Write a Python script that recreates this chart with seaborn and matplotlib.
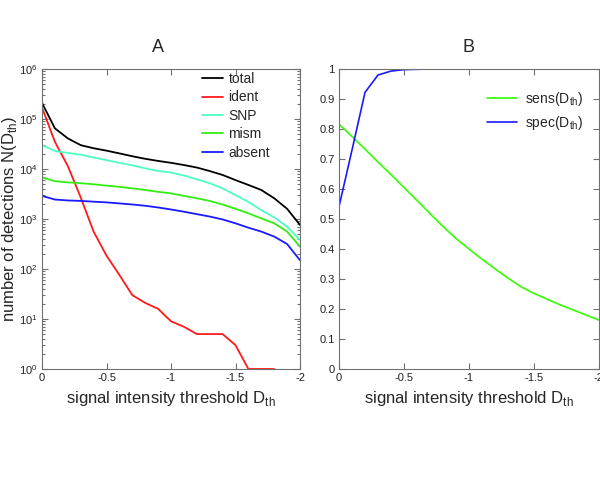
import numpy as np
import pandas as pd
import seaborn as sns
import matplotlib
matplotlib.use('Agg')
import matplotlib.pyplot as plt
from matplotlib.ticker import LogLocator, NullFormatter

# threshold values D_th (0 ... -2, step 0.1)
d_th = [0.0, -0.1, -0.2, -0.3, -0.4, -0.5, -0.6, -0.7, -0.8, -0.9, -1.0,
        -1.1, -1.2, -1.3, -1.4, -1.5, -1.6, -1.7, -1.8, -1.9, -2.0]

# panel A: number of detections
total = [2.1e5, 6.5e4, 4.1e4, 3.0e4, 2.6e4, 2.33e4, 2.05e4, 1.8e4, 1.6e4, 1.45e4, 1.33e4,
         1.2e4, 1.07e4, 9.1e3, 7.6e3, 6.0e3, 4.8e3, 3.8e3, 2.6e3, 1.6e3, 760]
ident = [1.7e5, 3.5e4, 1.15e4, 2.7e3, 560, 185, 76, 30, 21, 16, 9,
         7, 5, 5, 5, 3, 1, 1, 1, np.nan, np.nan]
snp = [3.0e4, 2.3e4, 2.1e4, 1.93e4, 1.7e4, 1.5e4, 1.33e4, 1.18e4, 1.03e4, 9.1e3, 8.5e3,
       7.4e3, 6.2e3, 5.2e3, 4.1e3, 3.0e3, 2.2e3, 1.5e3, 1.08e3, 700, 380]
mism = [6.8e3, 5.7e3, 5.4e3, 5.2e3, 4.95e3, 4.65e3, 4.4e3, 4.1e3, 3.8e3, 3.5e3, 3.25e3,
        2.9e3, 2.6e3, 2.3e3, 1.95e3, 1.6e3, 1.3e3, 1.03e3, 820, 560, 280]
absent = [2.9e3, 2.45e3, 2.35e3, 2.3e3, 2.22e3, 2.15e3, 2.05e3, 1.95e3, 1.84e3, 1.7e3, 1.55e3,
          1.4e3, 1.25e3, 1.12e3, 980, 820, 670, 560, 445, 316, 150]

# panel B: sensitivity / specificity
sens = [0.816, 0.775, 0.733, 0.69, 0.648, 0.605, 0.562, 0.518, 0.475, 0.435, 0.40,
        0.366, 0.334, 0.303, 0.274, 0.252, 0.233, 0.214, 0.197, 0.18, 0.163]
spec = [0.541, 0.73, 0.922, 0.98, 0.993, 0.998, 0.999, 1.0, 1.0, 1.0, 1.0,
        1.0, 1.0, 1.0, 1.0, 1.0, 1.0, 1.0, 1.0, 1.0, 1.0]

names_a = ['total', 'ident', 'SNP', 'mism', 'absent']
colors_a = ['#000000', '#ff1a1a', '#4dffc3', '#33ee11', '#1a1aff']
names_b = [r'sens(D$_\mathregular{th}$)', r'spec(D$_\mathregular{th}$)']
colors_b = ['#33ff00', '#1a1aff']

x_ticks = [0, -0.5, -1, -1.5, -2]
x_ticklabels = ['0', '-0.5', '-1', '-1.5', '-2']
y_ticks_b = [0, 0.1, 0.2, 0.3, 0.4, 0.5, 0.6, 0.7, 0.8, 0.9, 1.0]
y_ticklabels_b = ['0', '0.1', '0.2', '0.3', '0.4', '0.5', '0.6', '0.7', '0.8', '0.9', '1']


def style_axes(ax):
    for sp in ax.spines.values():
        sp.set_visible(True)
        sp.set_color('#707070')
        sp.set_linewidth(0.8)
    ax.tick_params(which='both', direction='in', top=True, right=True,
                   left=True, bottom=True, width=0.8,
                   colors='#707070', labelcolor='#222222', labelsize=8, pad=3)
    ax.tick_params(which='major', length=4)
    ax.tick_params(which='minor', length=2)


sns.set_style('white')
plt.rcParams['font.family'] = ['Liberation Sans', 'DejaVu Sans']
plt.rcParams['mathtext.fontset'] = 'custom'
plt.rcParams['mathtext.rm'] = 'Liberation Sans'

df_a = pd.DataFrame({'D': d_th * 5,
                     'N': total + ident + snp + mism + absent,
                     'kind': sum([[n] * len(d_th) for n in names_a], [])}).dropna()
df_b = pd.DataFrame({'D': d_th * 2,
                     'val': sens + spec,
                     'kind': sum([[n] * len(d_th) for n in names_b], [])})

fig = plt.figure(figsize=(6.0, 4.79), dpi=100)
ax_a = fig.add_axes([42 / 600, 1 - 369 / 479, 258 / 600, 300 / 479])
ax_b = fig.add_axes([339 / 600, 1 - 369 / 479, 260 / 600, 300 / 479])

# panel A
sns.lineplot(data=df_a, x='D', y='N', hue='kind', hue_order=names_a,
             palette=colors_a, errorbar=None, linewidth=1.3, ax=ax_a)
ax_a.set_yscale('log')
ax_a.set_ylim(1, 1e6)
ax_a.set_xlim(0, -2)
ax_a.set_xticks(x_ticks)
ax_a.set_xticklabels(x_ticklabels)
ax_a.yaxis.set_major_locator(LogLocator(base=10, numticks=100))
ax_a.yaxis.set_minor_locator(LogLocator(base=10, subs=np.arange(2, 10), numticks=100))
ax_a.yaxis.set_minor_formatter(NullFormatter())
style_axes(ax_a)
ax_a.set_title('A', fontsize=13, x=0.45, pad=12)
ax_a.set_xlabel(r'signal intensity threshold D$_\mathregular{th}$', fontsize=12, labelpad=4)
ax_a.set_ylabel(r'number of detections N(D$_\mathregular{th}$)', fontsize=12)
ax_a.yaxis.set_label_coords(-0.088, 0.5)
ax_a.legend(frameon=False, fontsize=10, loc='upper left', bbox_to_anchor=(0.62, 0.99),
            borderpad=0, borderaxespad=0, handlelength=1.5, handletextpad=0.4,
            labelspacing=0.32)

# panel B
sns.lineplot(data=df_b, x='D', y='val', hue='kind', hue_order=names_b,
             palette=colors_b, errorbar=None, linewidth=1.2, ax=ax_b)
ax_b.set_ylim(0, 1)
ax_b.set_xlim(0, -2)
ax_b.set_xticks(x_ticks)
ax_b.set_xticklabels(x_ticklabels)
ax_b.set_yticks(y_ticks_b)
ax_b.set_yticklabels(y_ticklabels_b)
style_axes(ax_b)
ax_b.set_title('B', fontsize=13, pad=12)
ax_b.set_xlabel(r'signal intensity threshold D$_\mathregular{th}$', fontsize=12, labelpad=4)
ax_b.set_ylabel('')
ax_b.legend(frameon=False, fontsize=10, loc='upper left', bbox_to_anchor=(0.571, 0.93),
            borderpad=0, borderaxespad=0, handlelength=2.1, handletextpad=0.6,
            labelspacing=0.45)

fig.savefig('out.png', dpi=100)
